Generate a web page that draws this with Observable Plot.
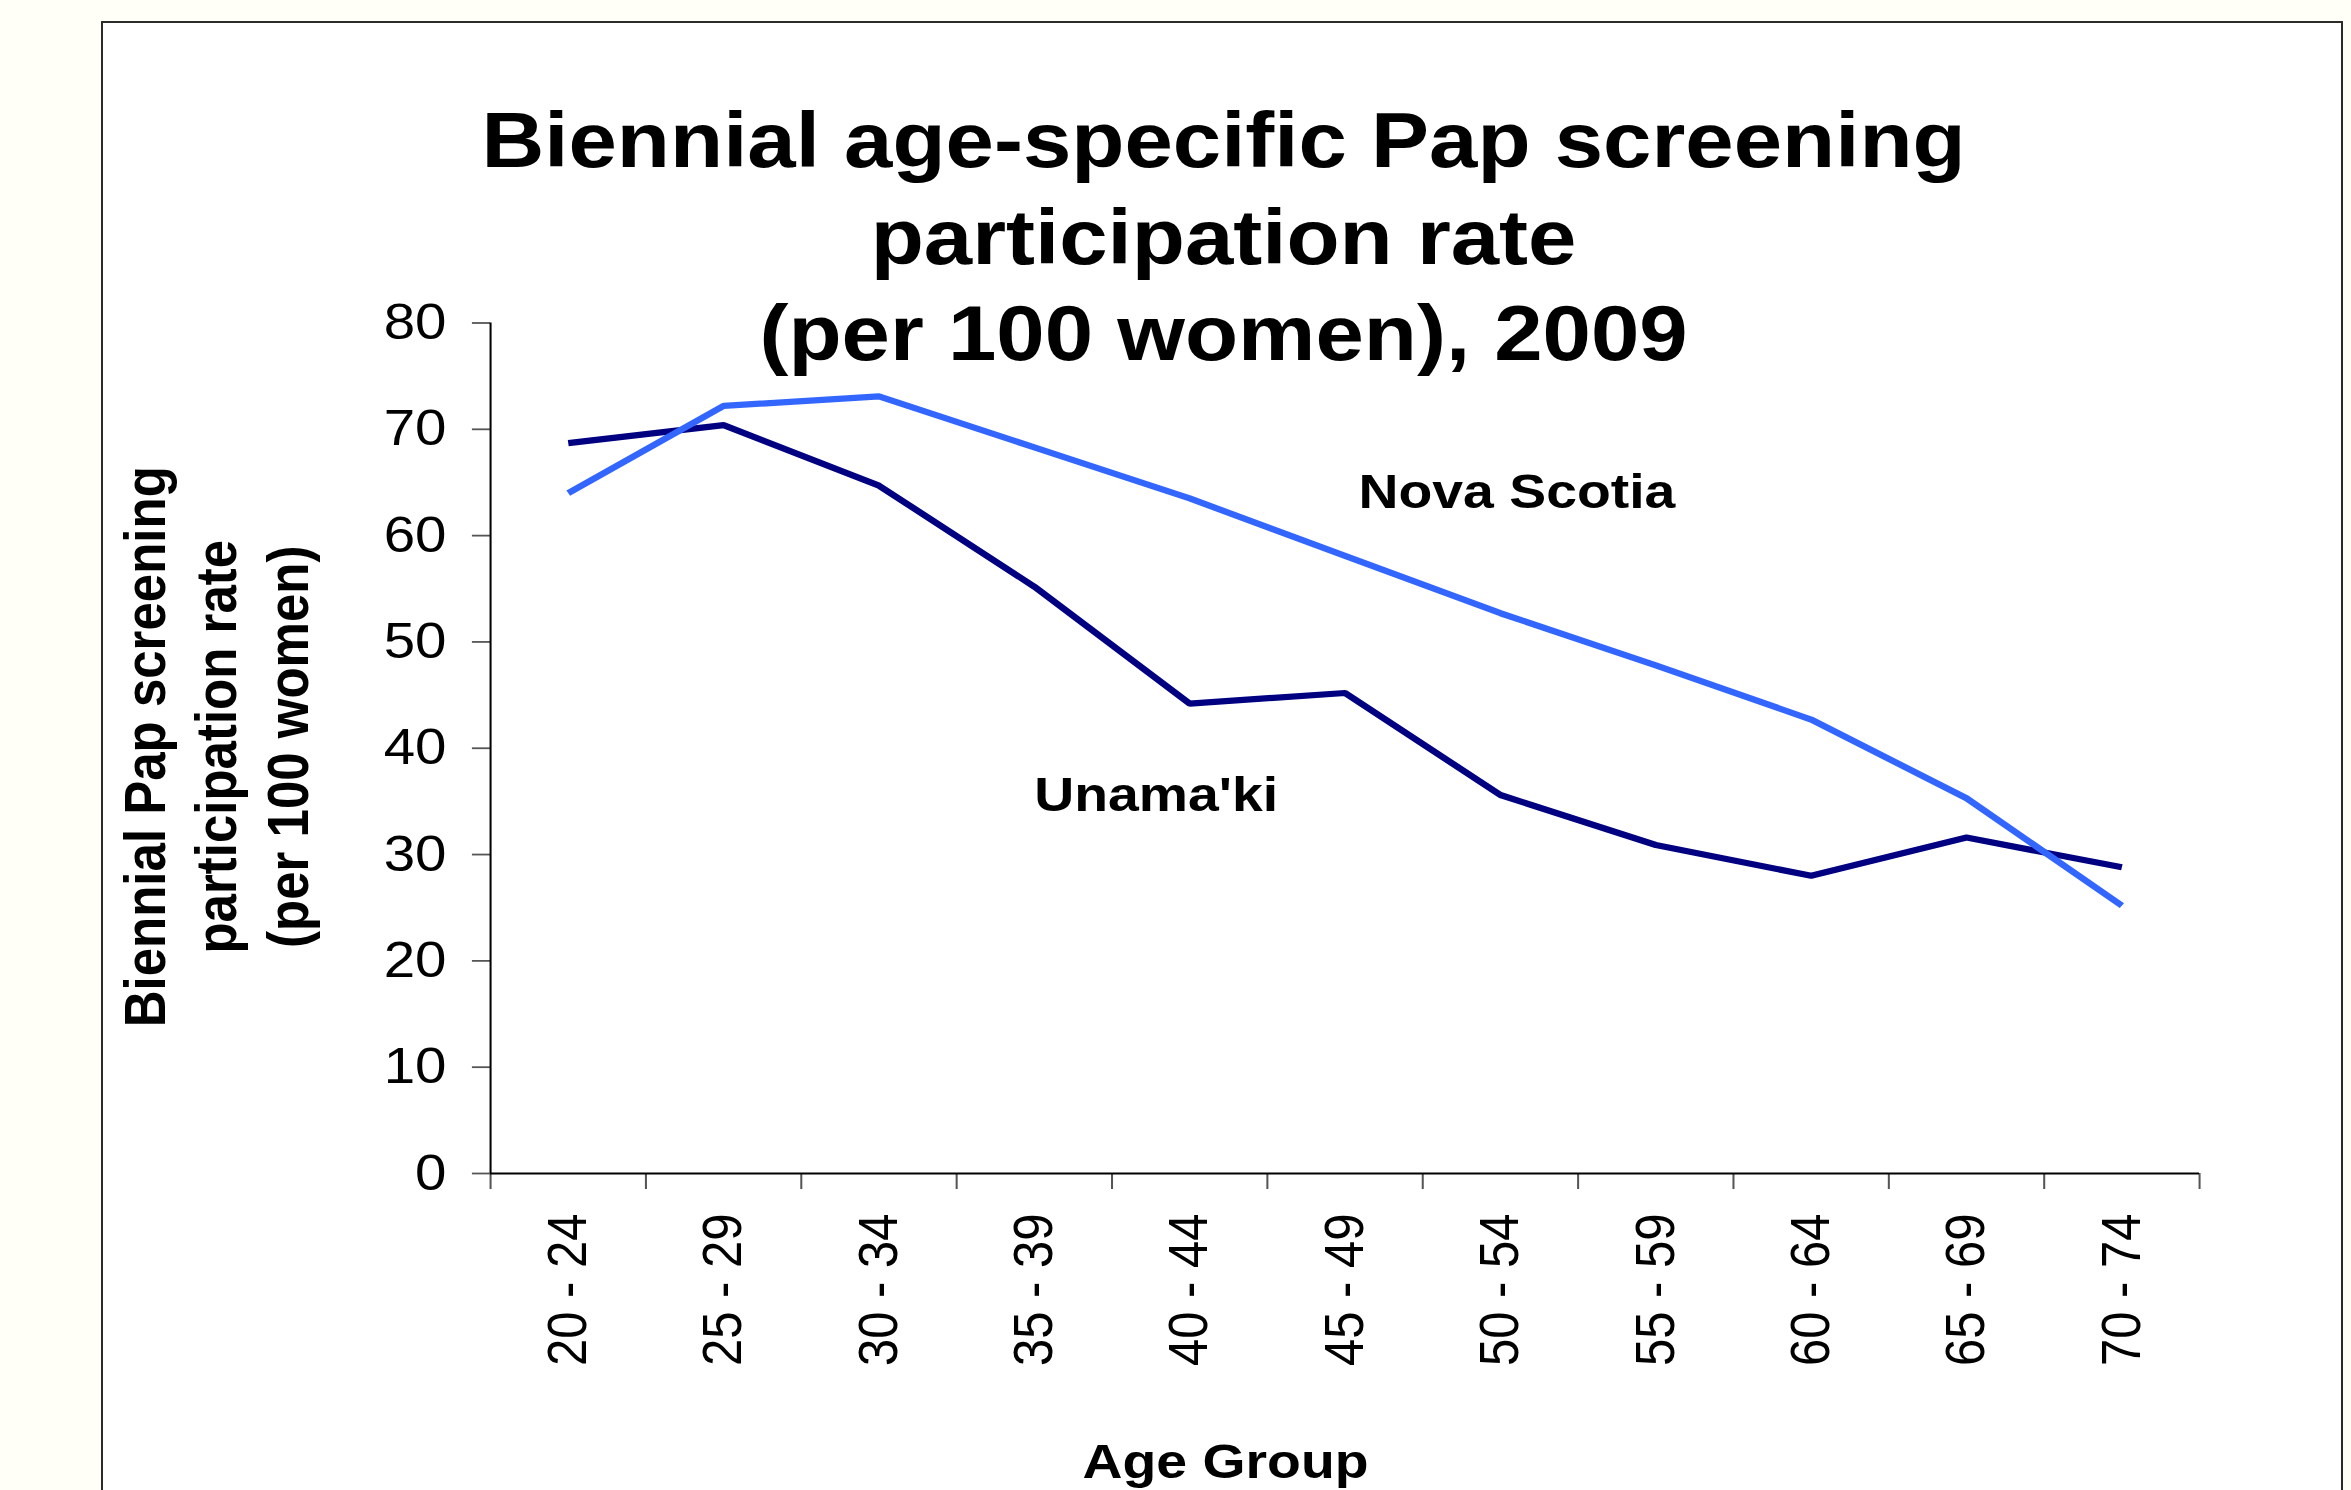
<!DOCTYPE html>
<html>
<head>
<meta charset="utf-8">
<script src="https://cdn.jsdelivr.net/npm/d3@7"></script>
<script src="https://cdn.jsdelivr.net/npm/@observablehq/plot@0.6"></script>
<style>
  html, body { margin: 0; padding: 0; width: 2351px; height: 1490px; overflow: hidden; background: #fffff8; }
  #frame { position: absolute; left: 101px; top: 21px; width: 2242px; height: 1530px; border: 2px solid #2b2b2b; background: #ffffff; box-sizing: border-box; }
  #chart { position: absolute; left: 0; top: 0; width: 2351px; height: 1490px; }
</style>
</head>
<body>
<div id="frame"></div>
<div id="chart"></div>
<script>
// ---- data ----
const ageGroups = ["20 - 24", "25 - 29", "30 - 34", "35 - 39", "40 - 44", "45 - 49", "50 - 54", "55 - 59", "60 - 64", "65 - 69", "70 - 74"];
const unamaki    = [68.7, 70.4, 64.7, 55.2, 44.2, 45.2, 35.6, 30.9, 28.0, 31.6, 28.8];
const novaScotia = [64.0, 72.2, 73.1, 68.3, 63.5, 58.1, 52.7, 47.8, 42.7, 35.3, 25.2];
const yTicks = [0, 10, 20, 30, 40, 50, 60, 70, 80];
const seriesNames = ["Nova Scotia", "Unama'ki"];
const seriesColors = ["#3366ff", "#000080"];
const titleLines = ["Biennial age-specific Pap screening", "participation rate", "(per 100 women), 2009"];
const yTitleLines = ["Biennial Pap screening", "participation rate", "(per 100 women)"];
const xTitle = "Age Group";

// ---- table built from the arrays ----
const rows = ageGroups.flatMap((g, i) => [
  {pos: i + 0.5, group: g, series: "Unama'ki", value: unamaki[i]},
  {pos: i + 0.5, group: g, series: "Nova Scotia", value: novaScotia[i]}
]);
const boundaries = d3.range(ageGroups.length + 1);
const centers = ageGroups.map((_, i) => i + 0.5);

// ---- layout (the source picture is horizontally stretched) ----
const SX = 1.13;
const W = 2351, H = 1490;
const font = "'Liberation Sans', Arial, Helvetica, sans-serif";
const titleDy = [-156, -59, 37];
const yTitleDx = [-288, -225, -162];

const chart = Plot.plot({
  width: W / SX,
  height: H,
  marginLeft: 490 / SX,
  marginRight: (W - 2199) / SX,
  marginTop: 322.5,
  marginBottom: H - 1173,
  style: {background: "transparent", fontFamily: font, color: "#000", overflow: "visible"},
  x: {type: "linear", domain: [0, ageGroups.length], axis: null},
  y: {domain: [0, 80], axis: null},
  color: {domain: seriesNames, range: seriesColors},
  marks: [
    // y axis ticks and labels
    Plot.axisY(yTicks, {anchor: "left", tickSize: 16, tickPadding: 23, fontSize: 50, stroke: "#555", strokeWidth: 1.8, fill: "#000", label: null}),
    // x boundary ticks
    Plot.axisX(boundaries, {anchor: "bottom", tickSize: 16, tickFormat: () => "", stroke: "#555", strokeWidth: 1.8, label: null}),
    // x category labels
    Plot.axisX(centers, {anchor: "bottom", tickSize: 0, tickPadding: 40, tickRotate: -90, tickFormat: v => ageGroups[Math.floor(v)], fontSize: 49, fill: "#000", label: null}),
    // axis lines
    Plot.ruleY([0], {stroke: "#000", strokeWidth: 1.8}),
    Plot.ruleX([0], {y1: 0, y2: 80, stroke: "#000", strokeWidth: 1.8}),
    // series
    Plot.line(rows, {x: "pos", y: "value", z: "series", stroke: "series", strokeWidth: 6.2, strokeLinejoin: "miter", strokeLinecap: "butt"}),
    // series labels
    Plot.text(rows.filter(d => d.series === "Nova Scotia" && d.group === "50 - 54"), {x: "pos", y: "value", text: "series", dx: 14.6, dy: -104.8, lineAnchor: "bottom", fontSize: 49, fontWeight: "bold", fill: "#000"}),
    Plot.text(rows.filter(d => d.series === "Unama'ki" && d.group === "40 - 44"), {x: "pos", y: "value", text: "series", dx: -29.7, dy: 107.8, lineAnchor: "bottom", fontSize: 49, fontWeight: "bold", fill: "#000"}),
    // title
    ...titleLines.map((t, k) => Plot.text([t], {text: d => d, frameAnchor: "top", dx: -107.5, dy: titleDy[k], lineAnchor: "bottom", fontSize: 77, fontWeight: "bold", fill: "#000"})),
    // y title
    ...yTitleLines.map((t, k) => Plot.text([t], {text: d => d, frameAnchor: "left", dx: yTitleDx[k], dy: -1.5, rotate: -90, textAnchor: "middle", lineAnchor: "bottom", fontSize: 51, fontWeight: "bold", fill: "#000"})),
    // x title
    Plot.text([xTitle], {text: d => d, frameAnchor: "bottom", dx: -105.8, dy: 304, lineAnchor: "bottom", fontSize: 49, fontWeight: "bold", fill: "#000"})
  ]
});

chart.setAttribute("width", W);
chart.setAttribute("height", H);
chart.setAttribute("preserveAspectRatio", "none");
chart.style.width = W + "px";
chart.style.height = H + "px";
chart.style.maxWidth = "none";
document.getElementById("chart").appendChild(chart);
</script>
</body>
</html>
